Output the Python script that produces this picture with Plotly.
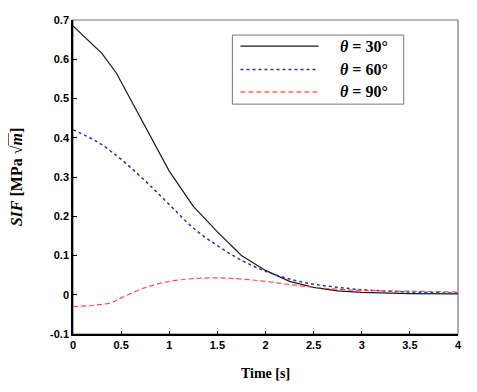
import plotly.graph_objects as go

# SIF vs time for three crack angles
t_30 = [0, 0.2, 0.3, 0.45, 0.6, 0.75, 1.0, 1.25, 1.5, 1.75, 2.0, 2.25, 2.5, 2.75, 3.0, 3.5, 4.0]
sif_30 = [0.685, 0.637, 0.615, 0.565, 0.497, 0.43, 0.315, 0.225, 0.16, 0.1, 0.062, 0.034, 0.019, 0.01, 0.006, 0.003, 0.002]

t_60 = [0, 0.25, 0.5, 0.75, 1.0, 1.25, 1.5, 1.75, 2.0, 2.25, 2.5, 2.75, 3.0, 3.5, 4.0]
sif_60 = [0.42, 0.39, 0.345, 0.29, 0.23, 0.17, 0.125, 0.088, 0.06, 0.04, 0.027, 0.019, 0.013, 0.007, 0.004]

t_90 = [0, 0.25, 0.4, 0.5, 0.75, 1.0, 1.25, 1.5, 1.75, 2.0, 2.25, 2.5, 2.75, 3.0, 3.5, 4.0]
sif_90 = [-0.03, -0.026, -0.02, -0.008, 0.018, 0.034, 0.041, 0.043, 0.04, 0.034, 0.026, 0.019, 0.014, 0.011, 0.009, 0.007]

angles = ["30", "60", "90"]

x_ticks = [0, 0.5, 1, 1.5, 2, 2.5, 3, 3.5, 4]
x_labels = ["0", "0.5", "1", "1.5", "2", "2.5", "3", "3.5", "4"]
y_ticks = [-0.1, 0, 0.1, 0.2, 0.3, 0.4, 0.5, 0.6, 0.7]
y_labels = ["-0.1", "0", "0.1", "0.2", "0.3", "0.4", "0.5", "0.6", "0.7"]

styles = [
    dict(color="#1a1a1a", width=1.2),
    dict(color="#3030a8", width=1.5, dash="dot"),
    dict(color="#ff4a4a", width=1.2, dash="5px,3px"),
]

fig = go.Figure()
fig.add_trace(go.Scatter(x=t_30, y=sif_30, mode="lines", line=styles[0]))
fig.add_trace(go.Scatter(x=t_60, y=sif_60, mode="lines", line_shape="spline", line=styles[1]))
fig.add_trace(go.Scatter(x=t_90, y=sif_90, mode="lines", line_shape="spline", line=styles[2]))

tick_font = dict(family="Arial, Liberation Sans, sans-serif", size=11, color="black")

fig.update_layout(
    width=477, height=392,
    margin=dict(l=65, r=27, t=12, b=66),
    plot_bgcolor="white", paper_bgcolor="white",
    showlegend=False,
    xaxis=dict(range=[0, 4], tickvals=x_ticks, ticktext=["<b>%s</b>" % s for s in x_labels],
               ticks="inside", ticklen=3, tickcolor="black",
               showline=True, linecolor="black", linewidth=1.5,
               showgrid=False, zeroline=False, tickfont=tick_font, automargin=False,
               title=dict(text="<b>Time [s]</b>", standoff=18,
                          font=dict(family="Liberation Serif, serif", size=14, color="black"))),
    yaxis=dict(range=[-0.1, 0.7], tickvals=y_ticks, ticktext=["<b>%s</b>" % s for s in y_labels],
               ticks="inside", ticklen=4, tickcolor="black",
               showline=True, linecolor="black", linewidth=1.5,
               showgrid=False, zeroline=False, tickfont=tick_font, automargin=False,
               title=dict(text="<b><i>SIF</i> [MPa √<span style='text-decoration:overline'><i>m</i></span>]</b>",
                          standoff=24,
                          font=dict(family="Liberation Serif, serif", size=16, color="black"))),
)

# thin grey frame around the plot area
fig.add_shape(type="rect", xref="paper", yref="paper", x0=0, y0=0, x1=1, y1=1,
              line=dict(color="#777777", width=1.2), layer="below")

# legend box drawn by hand so the line samples are long like in the original
fig.add_shape(type="rect", xref="paper", yref="paper", x0=0.414, x1=0.859, y0=0.732, y1=0.952,
              line=dict(color="#777777", width=1), fillcolor="white", layer="above")
for ang, st, ry in zip(angles, styles, [0.917, 0.842, 0.771]):
    fig.add_shape(type="line", xref="paper", yref="paper", x0=0.435, x1=0.638, y0=ry, y1=ry,
                  line=st)
    fig.add_annotation(xref="paper", yref="paper", x=0.688, y=ry, xanchor="left", yanchor="middle",
                       showarrow=False, text="<b><i>θ</i> = %s°</b>" % ang,
                       font=dict(family="Liberation Serif, DejaVu Serif, serif", size=16, color="black"))

fig.write_html("out.html")
